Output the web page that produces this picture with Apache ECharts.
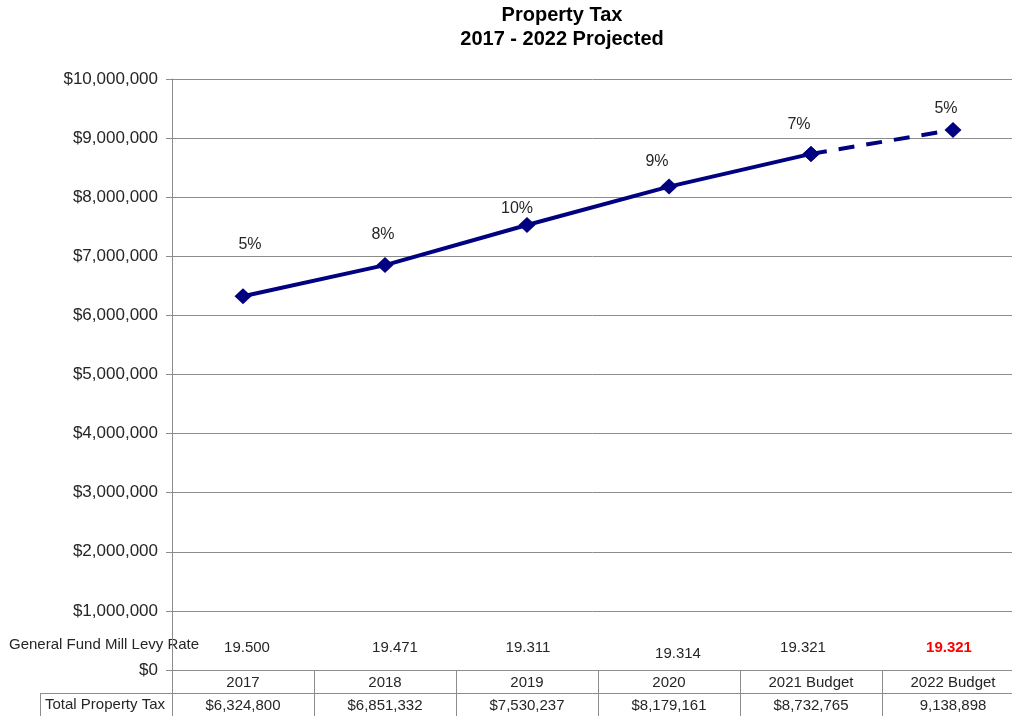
<!DOCTYPE html>
<html>
<head>
<meta charset="utf-8">
<script src="https://cdn.jsdelivr.net/npm/echarts@6/dist/echarts.min.js"></script>
<style>html,body{margin:0;padding:0;background:#fff}#c{width:1012px;height:716px}</style>
</head>
<body>
<div id="c"></div>
<script>
const categories = ['2017', '2018', '2019', '2020', '2021 Budget', '2022 Budget'];
const totalTax = [6324800, 6851332, 7530237, 8179161, 8732765, 9138898];
const totalTaxLabels = ['$6,324,800', '$6,851,332', '$7,530,237', '$8,179,161', '$8,732,765', '9,138,898'];
const pctChange = ['5%', '8%', '10%', '9%', '7%', '5%'];
const millLevy = ['19.500', '19.471', '19.311', '19.314', '19.321', '19.321'];
const titleLines = ['Property Tax', '2017 - 2022 Projected'];
const rowLabels = ['General Fund Mill Levy Rate', 'Total Property Tax'];
const yMin = 0, yMax = 10000000, yStep = 1000000;

// label styling offsets (style only)
const pctOffsets = [[7, -52], [-2, -30], [-10, -16], [-12, -25], [-12, -29], [-7, -21]];
const millShift = [[4, 0], [10, 0], [1, 0], [9, 3], [-8, 0], [-4, 0]];

const FONT = '"Liberation Sans", Arial, sans-serif';
const NAVY = '#000080';
const TXT = '#262626';
const GRID = '#8c8c8c';
const lastSolid = 4;

const solidData = totalTax.map((v, i) => i <= lastSolid ? {
  value: v,
  label: { show: true, formatter: pctChange[i], offset: pctOffsets[i] }
} : '-');
const dashData = totalTax.map((v, i) => i >= lastSolid ? {
  value: v,
  label: { show: i > lastSolid, formatter: pctChange[i], offset: pctOffsets[i] }
} : '-');

const fmtMoney = v => '$' + v.toLocaleString('en-US');

const millRich = {};
millShift.forEach((s, i) => {
  const dx = s[0], dy = s[1];
  millRich['p' + i] = {
    fontSize: 15, fontFamily: FONT,
    color: i === millLevy.length - 1 ? '#ff0000' : TXT,
    fontWeight: i === millLevy.length - 1 ? 'bold' : 'normal',
    padding: [Math.max(dy * 2, 0), Math.max(-dx * 2, 0), 0, Math.max(dx * 2, 0)]
  };
});

const chart = echarts.init(document.getElementById('c'));
const labelBase = { position: 'inside', color: TXT, fontSize: 16, fontFamily: FONT };
chart.setOption({
  animation: false,
  grid: { left: 172, top: 79, bottom: 46, right: -12, outerBoundsMode: 'none', containLabel: false },
  xAxis: [{
    type: 'category', data: categories, boundaryGap: true, position: 'bottom',
    axisLine: { lineStyle: { color: GRID, width: 1 } },
    axisTick: { show: true, length: 46, lineStyle: { color: GRID } },
    axisLabel: { color: TXT, fontSize: 15, fontFamily: FONT, margin: 5 }
  }, {
    type: 'category', data: totalTaxLabels, boundaryGap: true, position: 'bottom', offset: 23,
    axisLine: { lineStyle: { color: GRID, width: 1 } },
    axisTick: { show: false },
    axisLabel: { color: TXT, fontSize: 15, fontFamily: FONT, margin: 5 }
  }, {
    type: 'category', data: millLevy, boundaryGap: true, position: 'bottom', offset: -30,
    axisLine: { show: false }, axisTick: { show: false },
    axisLabel: {
      color: TXT, fontSize: 15, fontFamily: FONT, margin: 0,
      formatter: (v, i) => '{p' + i + '|' + v + '}',
      rich: millRich
    }
  }],
  yAxis: {
    type: 'value', min: yMin, max: yMax, interval: yStep,
    axisLine: { show: true, lineStyle: { color: GRID } },
    axisTick: { show: true, length: 6, lineStyle: { color: GRID } },
    splitLine: { lineStyle: { color: GRID, width: 1 } },
    axisLabel: { color: TXT, fontSize: 17, fontFamily: FONT, margin: 14, formatter: fmtMoney }
  },
  series: [{
    type: 'line', xAxisIndex: 0, data: solidData,
    symbol: 'diamond', symbolSize: [17, 16],
    lineStyle: { color: NAVY, width: 4 }, itemStyle: { color: NAVY },
    label: labelBase, z: 3
  }, {
    type: 'line', xAxisIndex: 0, data: dashData,
    symbol: 'diamond', symbolSize: [17, 16],
    lineStyle: { color: NAVY, width: 4, type: [16, 12] }, itemStyle: { color: NAVY },
    label: labelBase, z: 2
  }],
  graphic: [
    { type: 'text', x: 562, y: 15, style: { text: titleLines[0], font: 'bold 20px ' + FONT, fill: '#000', align: 'center', verticalAlign: 'middle' } },
    { type: 'text', x: 562, y: 39, style: { text: titleLines[1], font: 'bold 20px ' + FONT, fill: '#000', align: 'center', verticalAlign: 'middle' } },
    { type: 'text', x: 9, y: 645, style: { text: rowLabels[0], font: '15px ' + FONT, fill: TXT, align: 'left', verticalAlign: 'middle' } },
    { type: 'text', x: 45, y: 705, style: { text: rowLabels[1], font: '15px ' + FONT, fill: TXT, align: 'left', verticalAlign: 'middle' } },
    { type: 'line', shape: { x1: 40, y1: 693.5, x2: 172, y2: 693.5 }, style: { stroke: GRID, lineWidth: 1 } },
    { type: 'line', shape: { x1: 40.5, y1: 693, x2: 40.5, y2: 716 }, style: { stroke: GRID, lineWidth: 1 } }
  ]
});
</script>
</body>
</html>
